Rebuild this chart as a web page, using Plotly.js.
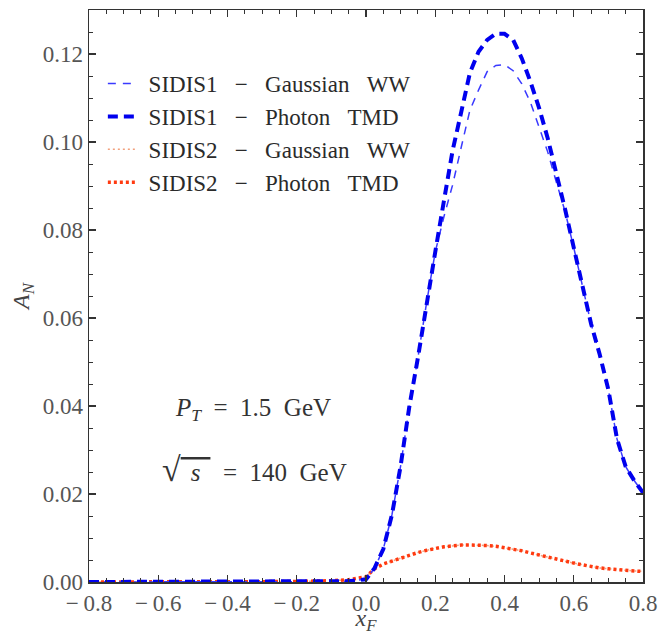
<!DOCTYPE html>
<html>
<head>
<meta charset="utf-8">
<script src="https://cdn.plot.ly/plotly-3.0.1.min.js"></script>
<style>html,body{margin:0;padding:0;background:#fff;}#chart{width:659px;height:635px;}</style>
</head>
<body>
<div id="chart"></div>
<script>
// x_F grid
const xF = [-0.8, -0.6, -0.4, -0.2, -0.1, -0.05, 0, 0.025, 0.05, 0.075, 0.1, 0.125, 0.15, 0.175, 0.2,
  0.225, 0.25, 0.275, 0.3, 0.325, 0.35, 0.375, 0.4, 0.425, 0.45, 0.475, 0.5, 0.525, 0.55, 0.575,
  0.6, 0.625, 0.65, 0.675, 0.7, 0.725, 0.75, 0.775, 0.8];

// SIDIS1 - Gaussian WW
const sidis1Gauss = [0, 0, 0, 0, 0.0001, 0.0002, 0.0006, 0.0032, 0.0075, 0.0153, 0.0264, 0.0398, 0.0510, 0.0635, 0.0750,
  0.0830, 0.0902, 0.0988, 0.1072, 0.1118, 0.1160, 0.1174, 0.1176, 0.1162, 0.1132, 0.1090, 0.1035, 0.0977, 0.0908, 0.0842,
  0.0760, 0.0670, 0.0587, 0.0517, 0.0437, 0.0325, 0.0262, 0.0230, 0.0203];

// SIDIS1 - Photon TMD
const sidis1Photon = [0, 0, 0, 0, 0.0001, 0.0002, 0.0006, 0.0032, 0.0075, 0.0153, 0.0264, 0.0398, 0.0510, 0.0635, 0.0750,
  0.0866, 0.0980, 0.1068, 0.1157, 0.1205, 0.1232, 0.1246, 0.1246, 0.1232, 0.1190, 0.1137, 0.1077, 0.1008, 0.0930, 0.0847,
  0.0760, 0.0670, 0.0587, 0.0517, 0.0437, 0.0325, 0.0262, 0.0230, 0.0203];

// SIDIS2 - Gaussian WW
const sidis2Gauss = [0, 0, 0.0001, 0.0001, 0.0003, 0.0005, 0.0012, 0.0030, 0.0041, 0.0048, 0.0055, 0.0061, 0.0067, 0.0072, 0.0077,
  0.0080, 0.0082, 0.0084, 0.0084, 0.0084, 0.0083, 0.0081, 0.0078, 0.0075, 0.0071, 0.0066, 0.0061, 0.0057, 0.0052, 0.0047,
  0.0043, 0.0039, 0.0035, 0.0032, 0.0030, 0.0028, 0.0026, 0.0025, 0.0024];

// SIDIS2 - Photon TMD
const sidis2Photon = [0, 0, 0.0001, 0.0001, 0.0003, 0.0005, 0.0012, 0.0030, 0.0041, 0.0048, 0.0055, 0.0061, 0.0067, 0.0072, 0.0077,
  0.0080, 0.0082, 0.0084, 0.0084, 0.0084, 0.0083, 0.0081, 0.0078, 0.0075, 0.0071, 0.0066, 0.0061, 0.0057, 0.0052, 0.0047,
  0.0043, 0.0039, 0.0035, 0.0032, 0.0030, 0.0028, 0.0026, 0.0025, 0.0024];

const S = "\u00a0\u00a0\u00a0";
const seriesNames = [
  "\u00a0SIDIS1" + S + "\u2212" + S + "Gaussian" + S + "WW",
  "\u00a0SIDIS1" + S + "\u2212" + S + "Photon" + S + "TMD",
  "\u00a0SIDIS2" + S + "\u2212" + S + "Gaussian" + S + "WW",
  "\u00a0SIDIS2" + S + "\u2212" + S + "Photon" + S + "TMD"
];

const xTickVals = [-0.8, -0.6, -0.4, -0.2, 0.0, 0.2, 0.4, 0.6, 0.8];
const xTickText = ["\u2212\u20090.8", "\u2212\u20090.6", "\u2212\u20090.4", "\u2212\u20090.2", "0.0", "0.2", "0.4", "0.6", "0.8"];
const yTickVals = [0.00, 0.02, 0.04, 0.06, 0.08, 0.10, 0.12];
const yTickText = ["0.00", "0.02", "0.04", "0.06", "0.08", "0.10", "0.12"];

const serif = "Liberation Serif, Times New Roman, serif";

const traces = [
  {x: xF, y: sidis2Gauss, name: seriesNames[2], mode: "lines", line: {color: "#f2a07c", width: 1.5, dash: "2px,3px"}, legendrank: 3},
  {x: xF, y: sidis2Photon, name: seriesNames[3], mode: "lines", line: {color: "#ff3a10", width: 3.5, dash: "3px,3px"}, legendrank: 4},
  {x: xF, y: sidis1Gauss, name: seriesNames[0], mode: "lines", line: {color: "#3a3aff", width: 1.5, dash: "8px,7px"}, legendrank: 1},
  {x: xF, y: sidis1Photon, name: seriesNames[1], mode: "lines", line: {color: "#0000ee", width: 4, dash: "10px,6px"}, legendrank: 2}
];

const axisCommon = {
  showgrid: false, zeroline: false, showline: true, linecolor: "#333", linewidth: 1.5,
  mirror: "allticks", ticks: "inside", ticklen: 7, tickwidth: 1.2, tickcolor: "#333",
  tickfont: {family: serif, size: 23, color: "#555"}
};

const layout = {
  width: 659, height: 635,
  margin: {l: 89, r: 16, t: 10, b: 53},
  paper_bgcolor: "#fff", plot_bgcolor: "#fff",
  showlegend: true,
  legend: {x: 0.025, y: 0.909, xanchor: "left", yanchor: "top", bgcolor: "rgba(0,0,0,0)",
    font: {family: serif, size: 23, color: "#2a2a2a"}, tracegroupgap: 0, itemwidth: 30},
  xaxis: Object.assign({}, axisCommon, {
    range: [-0.8, 0.8], tickmode: "array", tickvals: xTickVals, ticktext: xTickText,
    minor: {dtick: 0.05, ticks: "inside", ticklen: 4, tickcolor: "#333", tickwidth: 1},
    title: {text: "<i>x</i><sub><i>F</i></sub>", font: {family: serif, size: 24, color: "#444"}, standoff: 7}
  }),
  yaxis: Object.assign({}, axisCommon, {
    range: [0, 0.13], tickmode: "array", tickvals: yTickVals, ticktext: yTickText,
    minor: {dtick: 0.005, ticks: "inside", ticklen: 4, tickcolor: "#333", tickwidth: 1},
    title: {text: "<i>A</i><sub><i>N</i></sub>", font: {family: serif, size: 24, color: "#444"}, standoff: 6}
  }),
  annotations: [
    {xref: "paper", yref: "paper", x: 0.1516, y: 0.302, xanchor: "left", yanchor: "middle", showarrow: false,
      text: "<i>P</i><sub><i>T</i></sub>\u00a0\u00a0=\u00a0\u00a01.5\u00a0\u00a0GeV", font: {family: serif, size: 25, color: "#333"}},
    {xref: "paper", yref: "paper", x: 0.128, y: 0.196, xanchor: "left", yanchor: "middle", showarrow: false,
      text: "<span style='font-size:34px'>\u221a</span><span style='text-decoration:overline'><i>\u2009\u2009s\u2009\u2009</i></span>\u00a0\u00a0=\u00a0\u00a0140\u00a0\u00a0GeV", font: {family: serif, size: 25, color: "#333"}}
  ]
};

Plotly.newPlot("chart", traces, layout, {displayModeBar: false, staticPlot: true});
</script>
</body>
</html>
